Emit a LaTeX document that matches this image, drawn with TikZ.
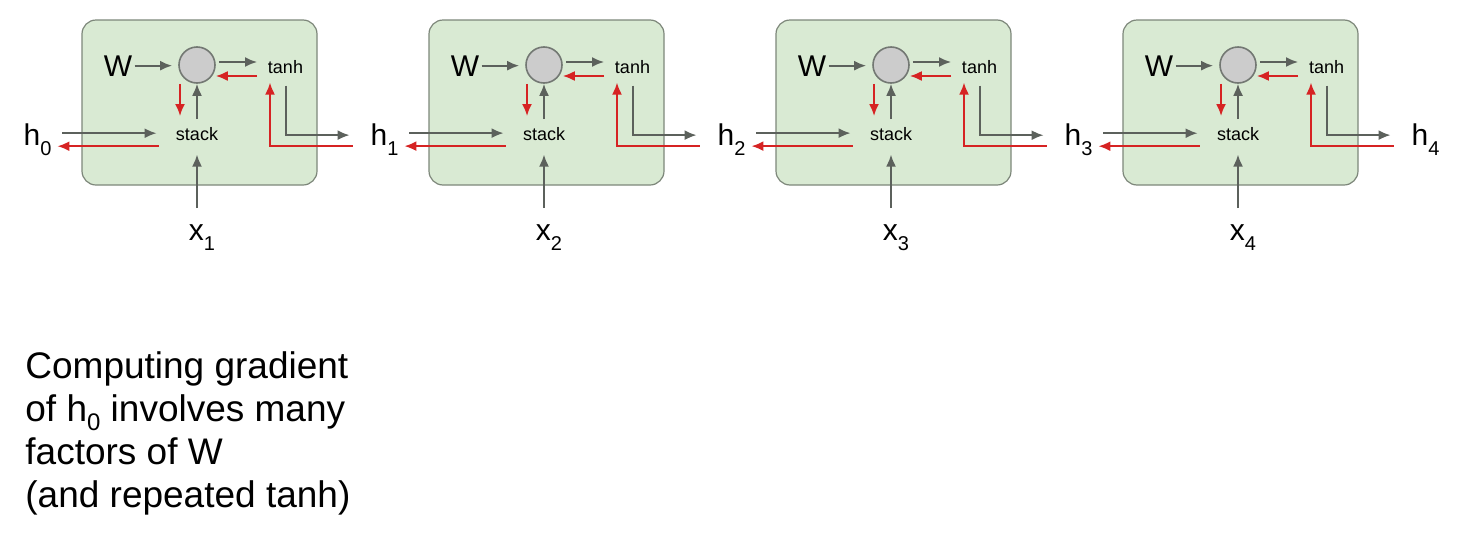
\documentclass[tikz,border=0pt]{standalone}
\usepackage{fontspec}
\setmainfont{Liberation Sans}
\usetikzlibrary{arrows.meta}
\definecolor{cellfill}{RGB}{217,234,211}
\definecolor{celldraw}{RGB}{125,135,122}
\definecolor{unitfill}{RGB}{204,204,204}
\definecolor{unitdraw}{RGB}{115,120,115}
\definecolor{fwdgray}{RGB}{92,97,92}
\definecolor{bwdred}{RGB}{214,35,35}
\newcommand{\lbl}[4][10]{#3\raisebox{-#2}{\fontsize{#1}{#1}\selectfont #4}}

\begin{document}
\begin{tikzpicture}[x=0.5pt,y=-0.5pt,
  cell/.style={draw=celldraw,fill=cellfill,line width=0.6pt,rounded corners=7pt,
    minimum width=117.5pt,minimum height=82.5pt},
  unit/.style={circle,draw=unitdraw,fill=unitfill,line width=0.8pt,minimum size=18pt,inner sep=0pt},
  lab/.style={inner sep=1pt,font=\fontsize{15}{15}\selectfont},
  op/.style={inner sep=1pt,font=\fontsize{9}{9}\selectfont},
  fwd/.style={draw=fwdgray,line width=1pt,-{Latex[length=6pt,width=5pt]}},
  bwd/.style={fwd,draw=bwdred}]
\useasboundingbox (0,0) rectangle (1472,536);
\foreach \k in {0,...,4}
  \node[lab,anchor=base] (h\k) at (37.5+347*\k,145) {\lbl{5pt}{h}{\k}};
\foreach \i [evaluate=\i as \dx using 347*(\i-1), evaluate=\i as \k using int(\i-1)] in {1,...,4} {
  \node[cell] (cell\i) at (199.5+\dx,102.5) {};
  \node[unit] (mul\i) at (197+\dx,65) {};
  \node[lab,anchor=base] (W\i) at (118+\dx,76) {W};
  \node[op,anchor=base] (tanh\i) at (285.5+\dx,73) {tanh};
  \node[op,anchor=base] (stack\i) at (197+\dx,140) {stack};
  \node[lab,anchor=base,outer ysep=7pt] (x\i) at (202+\dx,240) {\lbl{5pt}{x}{\i}};
  \draw[fwd,shorten >=3pt] (W\i.east) -- (W\i.east -| mul\i.west);
  \draw[fwd,shorten <=1.5pt,shorten >=4.25pt] ([yshift=1.5pt]mul\i.east) -- ([yshift=1.5pt]mul\i.east -| tanh\i.west);
  \draw[bwd,shorten <=4.25pt] ([yshift=-5.5pt]mul\i.east -| tanh\i.west) -- ([yshift=-5.5pt]mul\i.east);
  \draw[fwd,shorten <=2.75pt] (stack\i.north -| mul\i.south) -- (mul\i.south);
  \draw[bwd,shorten >=4.25pt] ([xshift=-8.5pt]mul\i.south) -- ([xshift=-8.5pt]mul\i.south |- stack\i.north);
  \draw[fwd,shorten >=6pt] (x\i.north -| stack\i.south) -- (stack\i.south);
  \draw[fwd,shorten <=4.3pt,shorten >=8.5pt] ([yshift=3pt]h\k.east) -- ([yshift=3pt]h\k.east -| stack\i.west);
  \draw[bwd,shorten <=7.5pt,shorten >=1.8pt] ([yshift=-3.5pt]h\k.east -| stack\i.west) -- ([yshift=-3.5pt]h\k.east);
  \draw[fwd,shorten <=5pt,shorten >=9.3pt] (tanh\i.south) |- ([yshift=2pt]h\i.west);
  \draw[bwd,shorten <=7.8pt,shorten >=3.5pt] ([yshift=-3.5pt]h\i.west) -| ([xshift=-7.75pt]tanh\i.south);
}
\node[anchor=north west,inner sep=0pt,align=left,font=\fontsize{18.5}{21.5}\selectfont] (note) at (25,351)
  {Computing gradient\\of \lbl[12]{4.5pt}{h}{0} involves many\\factors of W\\(and repeated tanh)};
\end{tikzpicture}
\end{document}
